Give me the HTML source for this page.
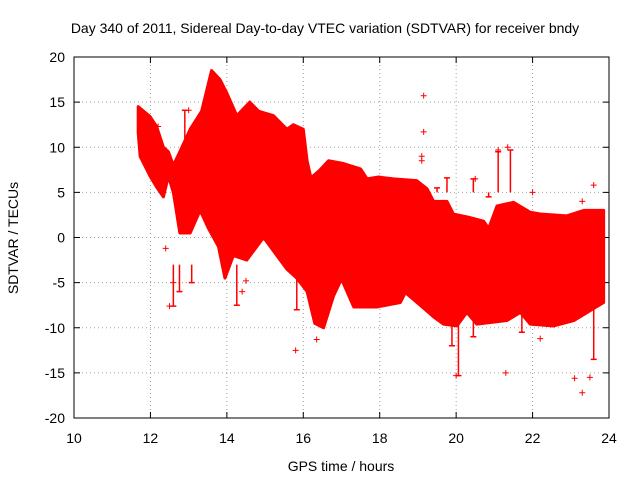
<!DOCTYPE html>
<html><head><meta charset="utf-8"><style>
body{margin:0;background:#fff}
svg text{font-family:"Liberation Sans",sans-serif;font-size:14px;fill:#000}
</style></head><body>
<svg id="chart" width="640" height="480" viewBox="0 0 640 480" xmlns="http://www.w3.org/2000/svg">
<rect width="640" height="480" fill="#fff"/>
<text x="325" y="33" text-anchor="middle">Day 340 of 2011, Sidereal Day-to-day VTEC variation (SDTVAR) for receiver bndy</text>
<text x="341" y="471" text-anchor="middle">GPS time / hours</text>
<text transform="translate(18,238) rotate(-90)" text-anchor="middle">SDTVAR / TECUs</text>
<g id="grid"></g><g id="ticks"></g><g id="marks"></g>
<rect x="74" y="57" width="535" height="361" fill="none" stroke="#000" stroke-width="1"/>
</svg>
<script>
const upperT=[11.68,11.99,12.16,12.34,12.47,12.6,12.77,13.04,13.34,13.6,13.82,14.0,14.26,14.6,14.83,15.22,15.57,15.74,16.0,16.1,16.2,16.44,16.66,17.05,17.5,17.67,17.97,18.36,18.97,19.24,19.41,19.76,19.93,20.37,20.72,20.85,21.07,21.5,21.94,22.2,22.9,23.34,23.86];
const upperV=[14.5,13.4,12.3,10,9.5,8,9.5,12,14,18.5,17.5,16,13.5,15,14,13.5,12,12.5,12,8.5,6.6,7.5,8.5,8.2,7.6,6.5,6.7,6.5,6.3,5.4,4,4,2.6,2.2,1.8,1,3.5,3.9,2.8,2.6,2.4,3,3];
const lowerT=[11.68,11.73,11.99,12.16,12.34,12.47,12.6,12.77,13.04,13.3,13.52,13.78,13.95,14.17,14.52,14.96,15.22,15.57,15.83,16.1,16.3,16.53,16.79,17.0,17.32,17.93,18.54,18.67,19.06,19.41,19.67,20.02,20.28,20.54,21.33,21.68,21.94,22.55,23.08,23.51,23.86];
const lowerV=[11.6,9,6.8,5.6,4.5,6.8,5,0.5,0.5,3,1,-1,-4.5,-2,-2.5,0,-1.5,-3.5,-4.5,-6,-9.5,-10,-6.5,-4.6,-7.7,-7.7,-7.2,-6.1,-7.5,-8.8,-9.6,-9.8,-8.3,-9.6,-9.2,-8.3,-9.6,-9.8,-9.2,-8.1,-7.2];
const spikeT=[12.6,12.76,13.08,14.26,15.83,19.89,20.06,20.45,21.72,23.6,21.1,21.42,20.45,19.76,19.5,20.85,12.9];
const spikeV=[-7.6,-6,-5,-7.5,-8,-12,-15.3,-11,-10.5,-13.5,9.5,9.7,6.5,6.6,5.5,4.5,14.1];
const outX=[19.15,19.15,19.1,19.1,15.8,16.35,21.3,23.1,23.3,23.5,23.6,20.0,22.2,13.0,12.2,12.5,21.1,21.35,20.5,22.0,14.4,14.5,23.3,12.4,12.6];
const outY=[15.7,11.7,9,8.5,-12.5,-11.3,-15,-15.6,-17.2,-15.5,5.8,-15.3,-11.2,14.1,12.3,-7.6,9.7,10,6.5,5,-6,-4.8,4,-1.2,-5];
const xTicks=[10,12,14,16,18,20,22,24];
const yTicks=[-20,-15,-10,-5,0,5,10,15,20];
const X0=74,X1=609,Y0=418,Y1=57;
const sx=t=>X0+(t-10)/14*(X1-X0);
const sy=v=>Y0-(v+20)/40*(Y0-Y1);
const NS="http://www.w3.org/2000/svg";
const grid=document.getElementById('grid'),ticks=document.getElementById('ticks'),marks=document.getElementById('marks');
function mk(tag,attrs,parent){const e=document.createElementNS(NS,tag);for(const k in attrs)e.setAttribute(k,attrs[k]);parent.appendChild(e);return e;}
xTicks.forEach(t=>{const x=sx(t);
 if(t>10&&t<24){const g=mk('line',{x1:x,x2:x,y1:Y1,y2:Y0,stroke:'#a0a0a0','stroke-dasharray':'1,3'},grid);
 
 }
 const tx=mk('text',{x:x,y:Y0+25,'text-anchor':'middle'},ticks);tx.textContent=t;
 
 
 mk('line',{x1:x,x2:x,y1:Y0,y2:Y0-6,stroke:'#000'},ticks);mk('line',{x1:x,x2:x,y1:Y1,y2:Y1+6,stroke:'#000'},ticks);});
yTicks.forEach(v=>{const y=sy(v);
 if(v>-20&&v<20){const g=mk('line',{x1:X0,x2:X1,y1:y,y2:y,stroke:'#a0a0a0','stroke-dasharray':'1,3'},grid);
 
 }
 const tx=mk('text',{x:X0-9,y:y+5,'text-anchor':'end'},ticks);tx.textContent=v;
 
 
 mk('line',{x1:X0,x2:X0+6,y1:y,y2:y,stroke:'#000'},ticks);mk('line',{x1:X1,x2:X1-6,y1:y,y2:y,stroke:'#000'},ticks);});
let pts=[];
upperT.forEach((t,i)=>pts.push(sx(t)+','+sy(upperV[i])));
for(let i=lowerT.length-1;i>=0;i--)pts.push(sx(lowerT[i])+','+sy(lowerV[i]));
const band=mk('polygon',{points:pts.join(' '),fill:'#ff0000',stroke:'#ff0000','stroke-width':3,'stroke-linejoin':'round'},marks);


spikeT.forEach((t,i)=>{const x=sx(t),y=sy(spikeV[i]);const y0=sy(spikeV[i]<0?-3:5);
 const p=mk('path',{d:`M${x},${y0}V${y}M${x-3},${y}H${x+3}`,stroke:'#ff0000','stroke-width':1.5},marks);
 
 });
outX.forEach((t,i)=>{const x=sx(t),y=sy(outY[i]);
 const p=mk('path',{d:`M${x-3},${y}H${x+3}M${x},${y-3}V${y+3}`,stroke:'#ff0000','stroke-width':1},marks);
 
 });
</script>
</body></html>
